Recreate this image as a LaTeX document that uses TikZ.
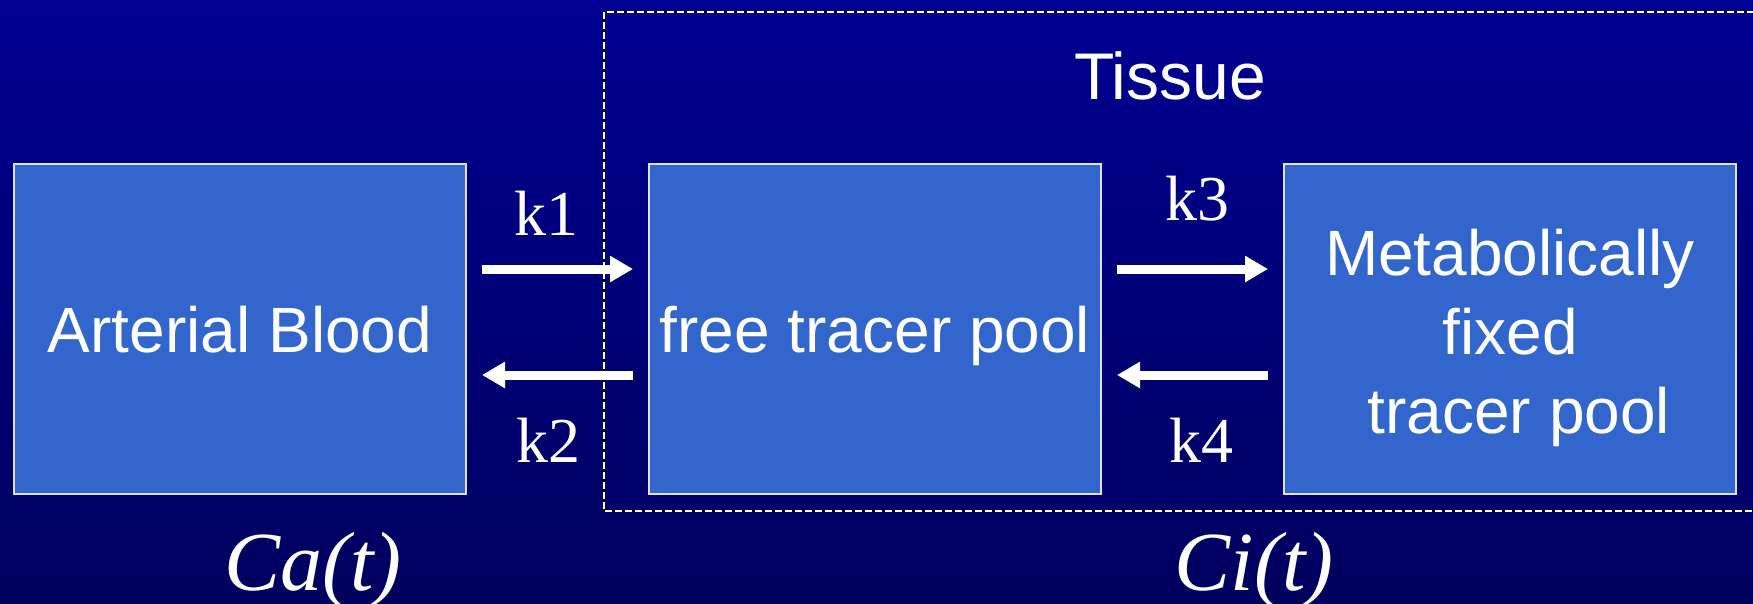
\documentclass[tikz,border=0pt]{standalone}
\usepackage{fontspec}
\setmainfont{Liberation Serif}
\newfontfamily\arialfont{Liberation Sans}
\usetikzlibrary{arrows.meta,calc}
\definecolor{bgtop}{RGB}{0,0,146}
\definecolor{bgbot}{RGB}{0,0,94}
\definecolor{boxfill}{RGB}{51,102,204}
\definecolor{boxline}{RGB}{225,225,235}
\tikzset{
  pool/.style={draw=boxline, line width=2pt, fill=boxfill, minimum width=452pt, minimum height=330pt, inner sep=0pt, text=white, font=\arialfont\fontsize{64}{79}\selectfont, align=center, text height=46pt, text depth=0pt},
  pooltext/.style={text=white, font=\arialfont\fontsize{64}{79}\selectfont, align=center, inner sep=0pt},
  klabel/.style={text=white, font=\fontsize{64}{70}\selectfont, anchor=base, inner sep=0pt},
  conc/.style={text=white, font=\itshape\fontsize{84}{90}\selectfont, anchor=base, inner sep=0pt},
  flow/.style={white, line width=9pt, -{Triangle[length=23pt,width=25pt]}, shorten <=15pt, shorten >=15pt},
}
\begin{document}
\begin{tikzpicture}[x=1pt,y=-1pt]
\useasboundingbox (0,0) rectangle (1753,603);
\shade[top color=bgtop, bottom color=bgbot] (0,0) rectangle (1753,603);
% tissue region
\draw[black, line width=1.6pt] (604,12) rectangle (1770,511);
\draw[white, line width=1.6pt, dash pattern=on 7pt off 3pt] (604,12) rectangle (1770,511);
\node[text=white, font=\arialfont\fontsize{66}{77}\selectfont, anchor=base, inner sep=0pt] (tissue) at (1170,99) {Tissue};
% pools
\node[pool] (A) at (240,329) {Arterial Blood};
\node[pool] (B) at (875,329) {free tracer pool};
\node[pool] (C) at (1510,329) {};
\node[pooltext] (Ct) at ([yshift=-9pt]C.center) {Metabolically\\fixed\\\ tracer pool};
% fluxes
\draw[flow] ([yshift=60pt]A.east) -- ([yshift=60pt]B.west);
\draw[flow] ([yshift=-46pt]B.west) -- ([yshift=-46pt]A.east);
\draw[flow] ([yshift=60pt]B.east) -- ([yshift=60pt]C.west);
\draw[flow] ([yshift=-46pt]C.west) -- ([yshift=-46pt]B.east);
\node[klabel] (k1) at (546,235) {k1};
\node[klabel] (k2) at (548,462) {k2};
\node[klabel] (k3) at (1197,220) {k3};
\node[klabel] (k4) at (1201,462) {k4};
% concentrations
\node[conc] (Ca) at (313,590) {Ca(t)};
\node[conc] (Ci) at (1254,590) {Ci(t)};
\end{tikzpicture}
\end{document}
